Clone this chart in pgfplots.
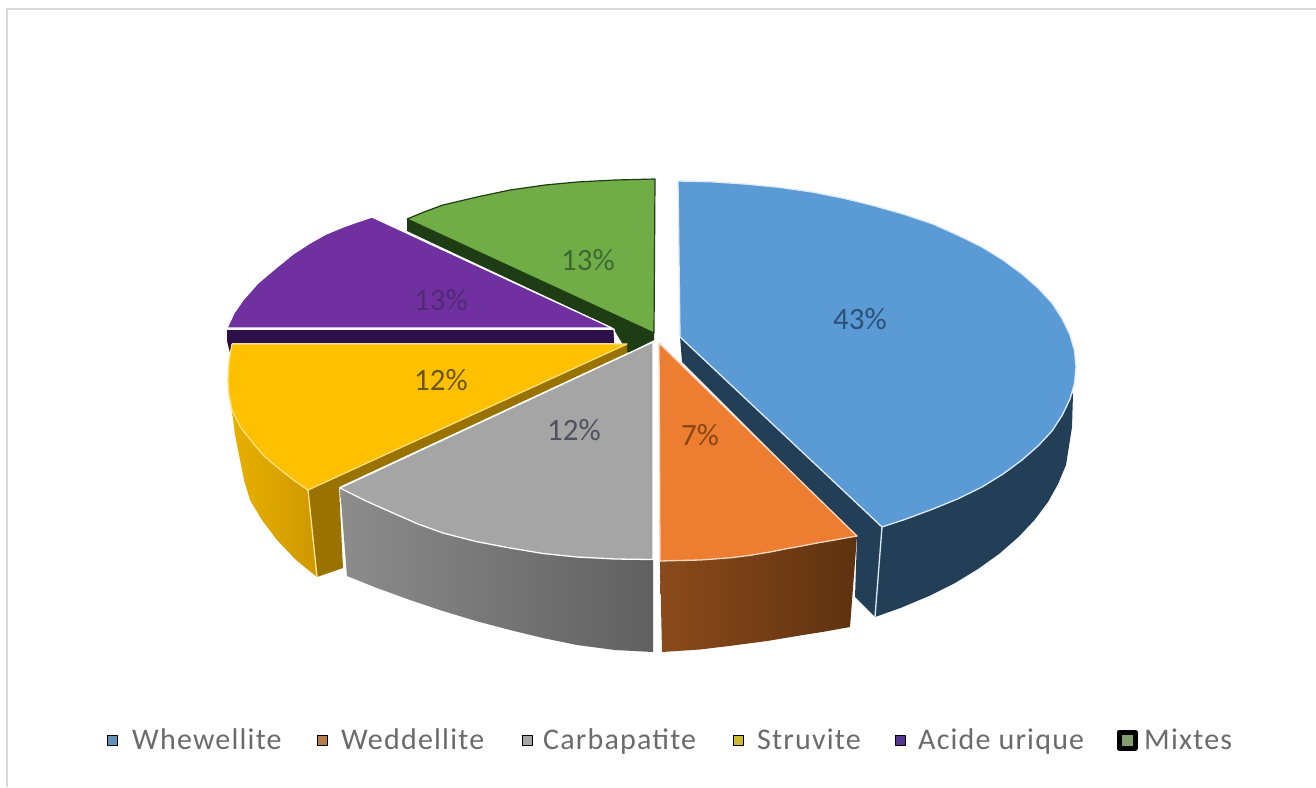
\documentclass[border=0pt]{standalone}
\usepackage{pgfplots}
\pgfplotsset{compat=1.18}
\usepackage{fontspec}
\setmainfont{Carlito}
\newfontfamily\legfont[LetterSpace=4]{Carlito}
\definecolor{cblue}{HTML}{5B9BD5}
\definecolor{cbluedk}{HTML}{233F58}
\definecolor{cor}{HTML}{ED7D31}
\definecolor{cgr}{HTML}{A5A5A5}
\definecolor{cye}{HTML}{FFC000}
\definecolor{cpu}{HTML}{7030A0}
\definecolor{cgn}{HTML}{70AD47}
\definecolor{cgncut}{HTML}{1F3D14}
\definecolor{legtxt}{HTML}{6B6B6B}
\begin{document}
\begin{tikzpicture}
\begin{axis}[at={(0,0)},anchor=south west,width=1316pt,height=787pt,scale only axis,
  xmin=0,xmax=1316,ymin=0,ymax=787,y dir=reverse,axis lines=none,
  every axis plot/.append style={line join=round,solid},
  clip=true]
% extent of the picture
\addplot[draw=none] coordinates {(0,0)(1316,787)};
% frame
\addplot[draw=black!15,line width=1.5pt] coordinates {(7,787)(7,9)(1316,9)};
% green cut
\addplot[fill=cgncut,draw=none] coordinates {(407,219)(654,333)(654,340)(628,353)(613,328)(407,231)(407,219)};
% green top
\addplot[fill=cgn,draw=cgncut,line width=1.2pt] coordinates {(407,219)(424,212)(443,205)(477,197)(510,190)(545,185)(577,182)(615,180)(655,179)(654,333)(407,219)};
% purple
\addplot[fill=cpu,draw=white,line width=1.3pt] coordinates {(227,328)(234,313)(243,300)(258,283)(277,267)(293,254)(310,243)(326,234)(343,227)(357,222)(372,217)(612,328)(227,328)};
\addplot[fill={rgb,255:red,44;green,16;blue,71},draw=none] coordinates {(227,330)(614,330)(614,343)(232,343)(230,353)(227,341)(227,330)};
\addplot[draw=white,line width=1.3pt] coordinates {(227,329)(614,329)(615,342)};
% blue side + cut
\addplot[fill=cbluedk,draw=none] coordinates {(1073,393)(1072,427)(1066,465)(1058,484)(1048,502)(1034.5,520)(1018.4,537)(999.7,553.4)(978.4,568.7)(955,583)(929,596)(901.4,607.6)(875,617)(855,597)(857,537)(682,362)(680,337)(882,527)(1022,460)(1073,393)};
\addplot[draw=white!80!cblue,line width=1.3pt] coordinates {(882,527)(875,617)};
% blue top
\addplot[fill=cblue,draw=white!80!cblue,line width=1.3pt] coordinates {(678,181)(710,181.7)(745,184)(779,187.3)(812,192)(844.5,198.4)(875,206)(905,214.6)(933,224)(958.6,235.5)(982,247)(1003.5,260.3)(1022,274)(1038.4,288.4)(1052,303)(1062.3,318.9)(1070,335)(1074.5,350.8)(1076,367)(1074.5,383.2)(1070,399)(1062.3,415.1)(1052,431)(1038.4,445.6)(1022,460)(1003.5,473.7)(982,487)(958.6,498.5)(933,509)(905,519.4)(882,527)(680,337)(678,181)};
% orange side
\addplot[left color={rgb,255:red,139;green,74;blue,27},right color={rgb,255:red,94;green,50;blue,16},draw=none] coordinates {(660,560)(700,560)(733,557)(770,552)(800,546)(830,541)(857,536)(850,627)(825,631.5)(800,635.5)(767,641)(733,645.5)(700,649.5)(662,652)(660,560)};
% orange top
\addplot[fill=cor,draw=white!70!cor,line width=1.3pt] coordinates {(659,343)(857,536)(830,540.8)(817,543)(800,546.3)(785,549)(770,552)(750,555.3)(733,557.5)(717,558.8)(700,560)(680,560.5)(660,561)(659,343)};
% yellow side
\addplot[left color={rgb,255:red,232;green,176;blue,0},right color={rgb,255:red,206;green,152;blue,0},draw=none] coordinates {(232,410)(241,428)(253,443)(264,456)(277,467)(292,479)(308,490)(317,577)(296,560)(277,540)(262,520)(250,500)(244,480)(240,460)(235,435)(232,410)};
% yellow cut
\addplot[fill={rgb,255:red,154;green,114;blue,0},draw=none] coordinates {(308,490)(627,343)(627,353)(339,487)(343,568)(317,577)(308,490)};
\addplot[draw=white!60!cye,line width=1.3pt] coordinates {(308,490)(317,577)};
% yellow top
\addplot[fill=cye,draw=white!50!cye,line width=1.3pt] coordinates {(232,344)(627,344)(308,490)(292,479)(277,467)(264,456)(253,443)(241,428)(232,410)(229,395)(228,380)(229,362)(232,344)};
% grey side
\addplot[left color={rgb,255:red,140;green,140;blue,140},right color={rgb,255:red,96;green,96;blue,96},draw=none] coordinates {(340,488)(366,501)(393,513)(418,524)(443,533)(476,541.5)(510,548)(543,553.5)(577,557)(615,559)(653,559.5)(653,652)(615,650)(577,645)(543,638)(510,630)(476,621)(443,611)(410,600)(377,588)(347,576)(340,488)};
% grey top
\addplot[fill=cgr,draw=white,line width=1.3pt] coordinates {(653,342)(653,559.5)(615,559)(577,557)(543,553.5)(510,548)(476,541.5)(443,533)(418,524)(393,513)(366,501)(340,488)(653,342)};
% legend markers
\addplot[only marks,mark=square*,mark size=5pt,mark options={draw=none,fill={rgb,255:red,100;green,145;blue,185}}] coordinates {(112,740)};
\addplot[only marks,mark=square*,mark size=5pt,mark options={draw=none,fill={rgb,255:red,180;green,125;blue,75}}] coordinates {(322,740)};
\addplot[only marks,mark=square*,mark size=5pt,mark options={draw=none,fill={rgb,255:red,165;green,165;blue,165}}] coordinates {(527,740)};
\addplot[only marks,mark=square*,mark size=5pt,mark options={draw=none,fill={rgb,255:red,205;green,185;blue,50}}] coordinates {(738,740)};
\addplot[only marks,mark=square*,mark size=5pt,mark options={draw=none,fill={rgb,255:red,85;green,55;blue,145}}] coordinates {(900,740)};
\addplot[only marks,mark=square*,mark size=8pt,mark options={draw=black,line width=5pt,line join=round,fill={rgb,255:red,130;green,160;blue,110}}] coordinates {(1127,740)};
% percentages
\node[text={rgb,255:red,45;green,80;blue,120},font=\fontsize{31}{32}\selectfont] at (axis cs:860,319) {43\%};
\node[text={rgb,255:red,135;green,70;blue,20},font=\fontsize{31}{32}\selectfont] at (axis cs:700,435) {7\%};
\node[text={rgb,255:red,80;green,80;blue,95},font=\fontsize{31}{32}\selectfont] at (axis cs:574,430) {12\%};
\node[text={rgb,255:red,105;green,85;blue,20},font=\fontsize{31}{32}\selectfont] at (axis cs:441,380) {12\%};
\node[text={rgb,255:red,80;green,42;blue,115},font=\fontsize{31}{32}\selectfont] at (axis cs:441,300) {13\%};
\node[text={rgb,255:red,60;green,105;blue,50},font=\fontsize{31}{32}\selectfont] at (axis cs:588,260) {13\%};
% legend text
\node[anchor=base west,inner sep=0pt,text=legtxt,font=\legfont\fontsize{30}{32}\selectfont] at (axis cs:132,749) {Whewellite};
\node[anchor=base west,inner sep=0pt,text=legtxt,font=\legfont\fontsize{30}{32}\selectfont] at (axis cs:341,749) {Weddellite};
\node[anchor=base west,inner sep=0pt,text=legtxt,font=\legfont\fontsize{30}{32}\selectfont] at (axis cs:543,749) {Carbapatite};
\node[anchor=base west,inner sep=0pt,text=legtxt,font=\legfont\fontsize{30}{32}\selectfont] at (axis cs:757,749) {Struvite};
\node[anchor=base west,inner sep=0pt,text=legtxt,font=\legfont\fontsize{30}{32}\selectfont] at (axis cs:918,749) {Acide urique};
\node[anchor=base west,inner sep=0pt,text=legtxt,font=\legfont\fontsize{30}{32}\selectfont] at (axis cs:1144,749) {Mixtes};
\end{axis}
\end{tikzpicture}
\end{document}
